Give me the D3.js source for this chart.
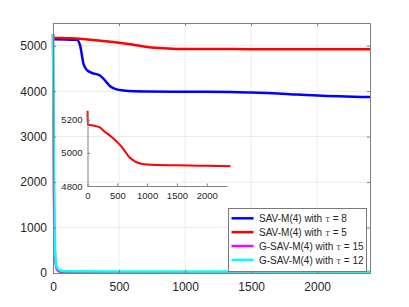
<!DOCTYPE html>
<html>
<head>
<meta charset="utf-8">
<script src="https://cdn.jsdelivr.net/npm/d3@7"></script>
<style>
  body { margin: 0; background: #fff; }
  svg { display: block; font-family: "Liberation Sans", Arial, sans-serif; }
</style>
</head>
<body>
<div id="chart"></div>
<script>
// series values (iteration step -> energy)
const blueX = [0, 100, 180, 205, 230, 255, 293, 356, 394, 432, 470, 533, 710, 1000, 1340, 1500, 1845, 2000, 2400];
const blueY = [5140, 5138, 5130, 5010, 4610, 4470, 4405, 4346, 4235, 4110, 4052, 4015, 3993, 3988, 3982, 3970, 3927, 3905, 3870];

const redX = [0, 3, 100, 200, 300, 400, 500, 600, 700, 800, 900, 1000, 1500, 2000, 2400];
const redY = [5255, 5172, 5165, 5155, 5125, 5098, 5065, 5025, 4975, 4948, 4935, 4930, 4925, 4922, 4920];

const magX = [0, 5, 10, 20, 30, 50, 100, 500, 2400];
const magY = [5250, 2500, 800, 200, 80, 30, 15, 8, 5];

const cyanX = [0, 5, 10, 20, 30, 50, 100, 500, 2400];
const cyanY = [5250, 3000, 1200, 300, 120, 60, 40, 32, 28];

const seriesNames = ["SAV-M(4) with ", "SAV-M(4) with ", "G-SAV-M(4) with ", "G-SAV-M(4) with "];
const tauValues = ["8", "5", "15", "12"];
const seriesColors = ["#0000ff", "#ff0000", "#ff00ff", "#00ffff"];

const xTicks = [0, 500, 1000, 1500, 2000];
const yTicks = [0, 1000, 2000, 3000, 4000, 5000];
const insetXTicks = [0, 500, 1000, 1500, 2000];
const insetYTicks = [4800, 5000, 5200];

const width = 409, height = 307;
const margin = { top: 23, right: 39, bottom: 34, left: 53 };
const axisColor = "#808080";
const textColor = "#262626";
const fmt = d3.format("d");

const svg = d3.select("#chart").append("svg")
  .attr("width", width)
  .attr("height", height);

const x = d3.scaleLinear().domain([0, 2400]).range([margin.left, width - margin.right]);
const y = d3.scaleLinear().domain([0, 5500]).range([height - margin.bottom, margin.top]);

// grid
svg.append("g").selectAll("line.gx")
  .data(xTicks.slice(1)).enter().append("line")
  .attr("x1", d => x(d)).attr("x2", d => x(d))
  .attr("y1", y(0)).attr("y2", y(5500))
  .attr("stroke", "#ebebeb").attr("stroke-width", 1);
svg.append("g").selectAll("line.gy")
  .data(yTicks.slice(1)).enter().append("line")
  .attr("x1", x(0)).attr("x2", x(2400))
  .attr("y1", d => y(d)).attr("y2", d => y(d))
  .attr("stroke", "#ebebeb").attr("stroke-width", 1);

// lines
const toPts = (xs, ys) => xs.map((v, i) => [v, ys[i]]);
const all = [toPts(blueX, blueY), toPts(redX, redY), toPts(magX, magY), toPts(cyanX, cyanY)];

const line = d3.line()
  .x(d => x(d[0])).y(d => y(d[1]))
  .curve(d3.curveMonotoneX);

all.forEach((pts, i) => {
  svg.append("path")
    .datum(pts)
    .attr("d", line)
    .attr("fill", "none")
    .attr("stroke", seriesColors[i])
    .attr("stroke-width", 2.5)
    .attr("stroke-linejoin", "round");
});

// axes (box style, ticks inward)
const gx = svg.append("g")
  .attr("transform", `translate(0,${y(0)})`)
  .call(d3.axisBottom(x).tickValues(xTicks).tickFormat(fmt).tickSizeInner(-3).tickSizeOuter(0).tickPadding(9));
const gy = svg.append("g")
  .attr("transform", `translate(${x(0)},0)`)
  .call(d3.axisLeft(y).tickValues(yTicks).tickFormat(fmt).tickSizeInner(-3).tickSizeOuter(0).tickPadding(6));
svg.append("g")
  .attr("transform", `translate(0,${y(5500)})`)
  .call(d3.axisTop(x).tickValues(xTicks).tickSizeInner(-3).tickSizeOuter(0).tickFormat(""));
svg.append("g")
  .attr("transform", `translate(${x(2400)},0)`)
  .call(d3.axisRight(y).tickValues(yTicks).tickSizeInner(-3).tickSizeOuter(0).tickFormat(""));

svg.selectAll(".domain, .tick line").attr("stroke", axisColor);
[gx, gy].forEach(g => g.selectAll("text")
  .attr("fill", textColor).style("font-size", "12px")
  .style("font-family", "'Liberation Sans', Arial, sans-serif"));

// inset
const ix = d3.scaleLinear().domain([0, 2340]).range([87.5, 227]);
const iy = d3.scaleLinear().domain([4800, 5255]).range([186, 110.7]);

const inset = svg.append("g");
inset.append("path")
  .datum(all[1])
  .attr("d", d3.line().x(d => ix(d[0])).y(d => iy(d[1])).curve(d3.curveMonotoneX))
  .attr("fill", "none")
  .attr("stroke", seriesColors[1])
  .attr("stroke-width", 2)
  .attr("stroke-linejoin", "round");

const igx = inset.append("g")
  .attr("transform", `translate(0,${iy(4800)})`)
  .call(d3.axisBottom(ix).tickValues(insetXTicks).tickFormat(fmt).tickSizeInner(-2.5).tickSizeOuter(0).tickPadding(6));
const igy = inset.append("g")
  .attr("transform", `translate(${ix(0)},0)`)
  .call(d3.axisLeft(iy).tickValues(insetYTicks).tickFormat(fmt).tickSizeInner(-2.5).tickSizeOuter(0).tickPadding(5));
inset.selectAll(".domain, .tick line").attr("stroke", axisColor);
[igx, igy].forEach(g => g.selectAll("text")
  .attr("fill", textColor).style("font-size", "9.5px")
  .style("font-family", "'Liberation Sans', Arial, sans-serif"));

// legend
const legend = svg.append("g");
legend.append("rect")
  .attr("x", 228.5).attr("y", 208.5)
  .attr("width", 138).attr("height", 63)
  .attr("fill", "#fff")
  .attr("stroke", "#7a7a7a").attr("stroke-width", 1);

seriesNames.forEach((name, i) => {
  const ly = 218.3 + i * 13.9;
  legend.append("line")
    .attr("x1", 231.5).attr("x2", 253.5)
    .attr("y1", ly).attr("y2", ly)
    .attr("stroke", seriesColors[i]).attr("stroke-width", 2.5);
  const t = legend.append("text")
    .attr("x", 259).attr("y", ly + 3.6)
    .attr("fill", textColor)
    .style("font-size", "10px");
  t.append("tspan").text(name);
  t.append("tspan").text("τ")
    .style("font-style", "italic")
    .style("font-family", "'DejaVu Serif', serif")
    .style("font-size", "9px")
    .attr("fill", "#555");
  t.append("tspan").text(" = " + tauValues[i]);
});
</script>
</body>
</html>
